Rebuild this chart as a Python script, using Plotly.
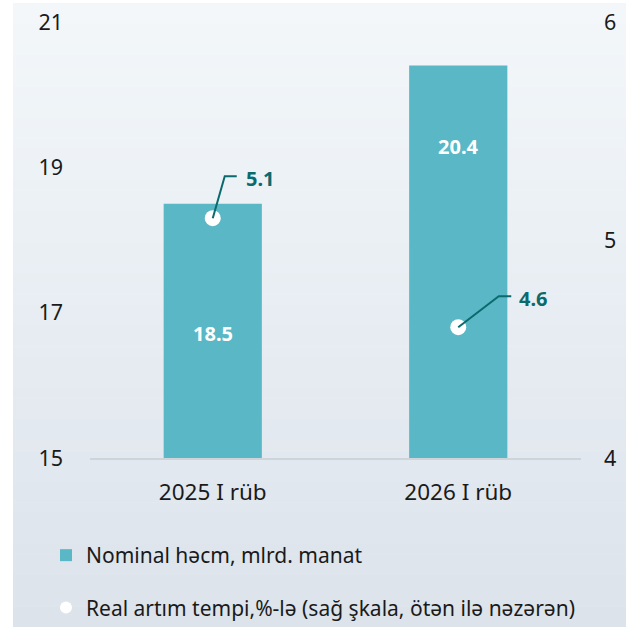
import plotly.graph_objects as go

categories = ["2025 I rüb", "2026 I rüb"]
nominal = [18.5, 20.4]
real_growth = [5.1, 4.6]
bar_name = "Nominal həcm, mlrd. manat"
line_name = "Real artım tempi,%-lə (sağ şkala, ötən ilə nəzərən)"

W, H = 626, 627
L, R, T, B = 90, 45, 22, 169
pw, ph = W - L - R, H - T - B

def px2x(px):
    return (px - L) / pw

def px2y(py):
    return (H - B - py) / ph

FONT = "Noto Sans"
BAR_C = "#5ab7c5"
LBL_C = "#0b6a6e"

fig = go.Figure()
fig.add_trace(go.Bar(x=categories, y=nominal, name=bar_name, marker=dict(color=BAR_C, line=dict(width=0)),
                     legendgroup="a", yaxis="y"))
fig.add_trace(go.Scatter(x=categories, y=real_growth, name=line_name, mode="markers",
                         marker=dict(color="white", size=16, line=dict(width=0)),
                         legendgroup="b", yaxis="y2"))

# gradient background panel
shapes = []
n = 60
top_c = (243, 247, 250)
bot_c = (220, 227, 235)
y_top, y_bot = 3, 627
for i in range(n):
    t = i / (n - 1)
    c = tuple(round(top_c[k] + (bot_c[k] - top_c[k]) * t) for k in range(3))
    a = y_top + (y_bot - y_top) * i / n
    b = y_top + (y_bot - y_top) * (i + 1) / n + 0.6
    shapes.append(dict(type="rect", xref="paper", yref="paper", x0=px2x(13), x1=px2x(W + 5),
                       y0=px2y(min(b, y_bot + 5)), y1=px2y(a), fillcolor="rgb(%d,%d,%d)" % c,
                       line=dict(width=0), layer="below"))

# leader lines
leaders = [([0, 12, 24], [0, 42, 42]), ([0, 40.5, 53], [0, 31, 31])]
for cat, val, (xs, ys) in zip(categories, real_growth, leaders):
    path = "M%g,%g L%g,%g L%g,%g" % (xs[0], ys[0], xs[1], ys[1], xs[2], ys[2])
    shapes.append(dict(type="path", xref="x", yref="y2", xsizemode="pixel", ysizemode="pixel",
                       xanchor=cat, yanchor=val, path=path, line=dict(color=LBL_C, width=2), layer="above"))

annotations = []
bar_label_y = [16.72, 19.28]
for cat, val, ly in zip(categories, nominal, bar_label_y):
    annotations.append(dict(x=cat, y=ly, xref="x", yref="y", text="<b>%.1f</b>" % val, showarrow=False,
                            font=dict(family=FONT, size=20, color="white")))
shifts = [(31, 40), (59, 29)]
for cat, val, (dx, dy) in zip(categories, real_growth, shifts):
    annotations.append(dict(x=cat, y=val, xref="x", yref="y2", text="<b>%.1f</b>" % val, showarrow=False,
                            xanchor="left", yanchor="middle", xshift=dx, yshift=dy,
                            font=dict(family=FONT, size=20, color=LBL_C)))

fig.update_layout(
    width=W, height=H,
    margin=dict(l=L, r=R, t=T, b=B, autoexpand=False),
    paper_bgcolor="white", plot_bgcolor="rgba(0,0,0,0)",
    font=dict(family=FONT, size=21, color="#1a1a1a"),
    bargap=0.6,
    shapes=shapes, annotations=annotations,
    xaxis=dict(showgrid=False, showline=True, linecolor="#cfd4d8", linewidth=2, ticks="",
               ticklabelstandoff=13, tickfont=dict(size=22.5), zeroline=False),
    yaxis=dict(range=[15, 21], dtick=2, tick0=15, showgrid=False, zeroline=False, ticks="",
               ticklabelstandoff=26, tickfont=dict(size=21.5), showline=False),
    yaxis2=dict(range=[4, 6], dtick=1, tick0=4, overlaying="y", side="right", showgrid=False,
                zeroline=False, ticks="", ticklabelstandoff=22, tickfont=dict(size=21.5)),
    showlegend=True,
    legend=dict(x=px2x(46), y=px2y(535), xanchor="left", yanchor="top", orientation="v",
                bgcolor="rgba(0,0,0,0)", font=dict(family=FONT, size=21, color="#1a1a1a"),
                tracegroupgap=22, itemsizing="constant"),
)

fig.write_html("out.html", config={"displayModeBar": False},
               post_script="document.body.style.margin='0';document.body.style.overflow='hidden';")
